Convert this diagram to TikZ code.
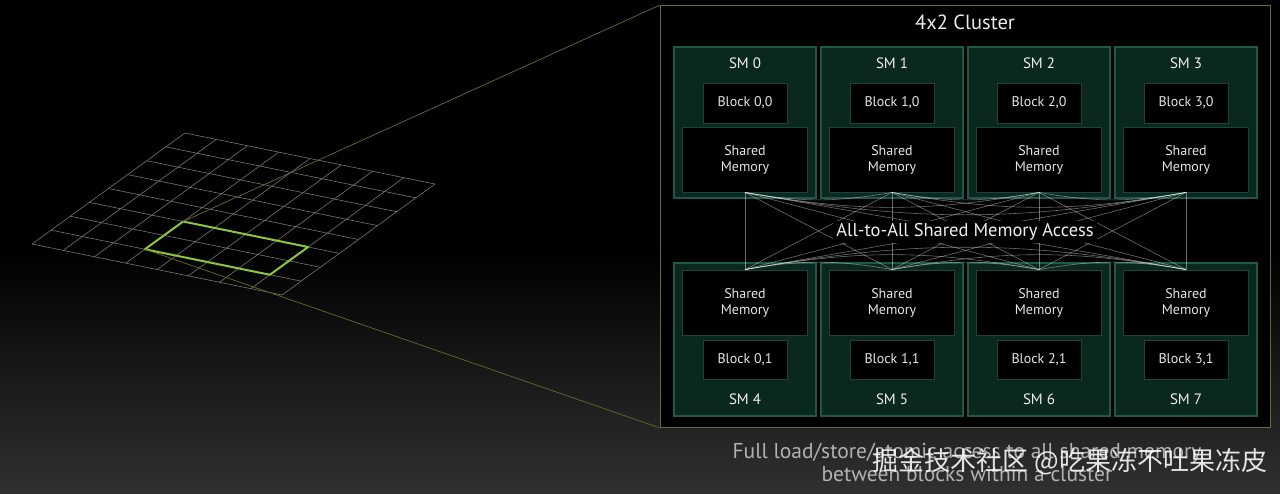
\documentclass[tikz,border=0pt]{standalone}
\usepackage{fontspec}
\setmainfont{PT Sans}
\newfontfamily\cjk{Noto Sans CJK SC}
\definecolor{smfill}{RGB}{11,40,32}
\definecolor{smborder}{RGB}{32,88,72}
\definecolor{inborder}{RGB}{26,68,55}
\definecolor{olivec}{RGB}{105,105,45}
\definecolor{nvgreen}{RGB}{140,198,63}
\definecolor{gridc}{RGB}{118,118,112}
\definecolor{captc}{RGB}{178,178,178}
\definecolor{bgbottom}{RGB}{48,48,48}
\tikzset{
  smbox/.style={draw=smborder, fill=smfill, line width=1.2pt, inner sep=0pt, minimum width=142pt},
  inbox/.style={draw=inborder, fill=black, line width=0.8pt, inner sep=0pt, text=white!90!black, align=center, font=\fontsize{14}{16}\selectfont},
  smlabel/.style={text=white!94!black, font=\fontsize{15}{16}\selectfont, inner sep=0pt},
  conn/.style={draw=white, draw opacity=0.42, line width=0.6pt},
  gridline/.style={draw=gridc, line width=0.6pt},
  zoomline/.style={draw=olivec, line width=0.7pt},
}
\begin{document}
\begin{tikzpicture}[x=1pt,y=-1pt]
\useasboundingbox (0,0) rectangle (1280,493);
% background
\fill[black] (0,0) rectangle (1280,493);
\shade[top color=black, bottom color=bgbottom] (0,250) rectangle (1280,493);

% perspective grid
\begin{scope}[shift={(185,133)}, x={(31.25pt,-6.375pt)}, y={(-19.125pt,-13.875pt)}]
  \foreach \k in {0,...,8} {
    \draw[gridline] (\k,0) -- (\k,8);
    \draw[gridline] (0,\k) -- (8,\k);
  }
  \draw[draw=nvgreen, line width=2pt, line join=round] (3,5) -- (7,5) -- (7,7) -- (3,7) -- cycle;
  \coordinate (gtop) at (3,5);
  \coordinate (gbot) at (3,7);
\end{scope}

% cluster box
\node[draw=olivec, fill=black, line width=1pt, inner sep=0pt, minimum width=610pt, minimum height=422pt, anchor=north west] (cluster) at (660,5) {};
\draw[zoomline] (gtop) -- (cluster.north west);
\draw[zoomline] (gbot) -- (cluster.south west);

\node[text=white!92!black, font=\fontsize{20.5}{22}\selectfont, inner sep=0pt] (title) at (965,22) {4x2 Cluster};

% SMs
\foreach \i in {0,...,3} {
  \pgfmathsetmacro\cx{745+147*\i}
  \pgfmathtruncatemacro\j{\i+4}
  \node[smbox, minimum height=151pt] (smT\i) at (\cx,122.5) {};
  \node[smlabel] (lT\i) at (\cx,63) {SM \i};
  \node[inbox, minimum width=84pt, minimum height=40pt] (bT\i) at (\cx,103) {Block \i,0};
  \node[inbox, minimum width=125pt, minimum height=65pt] (mT\i) at (\cx,159.5) {Shared\\Memory};
  \node[smbox, minimum height=153pt] (smB\i) at (\cx,339.5) {};
  \node[smlabel] (lB\i) at (\cx,399) {SM \j};
  \node[inbox, minimum width=84pt, minimum height=39pt] (bB\i) at (\cx,359.5) {Block \i,1};
  \node[inbox, minimum width=125pt, minimum height=65pt] (mB\i) at (\cx,302.5) {Shared\\Memory};
}

% all-to-all connectors
\foreach \i in {0,...,3} {
  \foreach \j in {0,...,3} {
    \draw[conn] (mT\i.south) -- (mB\j.north);
  }
}
\foreach \i/\j in {0/1,0/2,0/3,1/2,1/3,2/3} {
  \draw[conn] (mT\i.south) to[bend right=10] (mT\j.south);
  \draw[conn] (mB\i.north) to[bend left=10] (mB\j.north);
}

\node[fill=black, text=white!94!black, font=\fontsize{18.5}{20}\selectfont, inner sep=3pt] (a2a) at (965,232) {All-to-All Shared Memory Access};

% caption
\node[text=captc, align=center, font=\fontsize{21.5}{23}\selectfont, inner sep=0pt] (caption) at (967,462) {Full load/store/atomic access to all shared memory\\between blocks within a cluster};

% watermark
\node[text=white, text opacity=0.88, font=\cjk\fontsize{26}{28}\selectfont, inner sep=0pt] (wm) at (1070,462) {掘金技术社区 @吃果冻不吐果冻皮};
\end{tikzpicture}
\end{document}
